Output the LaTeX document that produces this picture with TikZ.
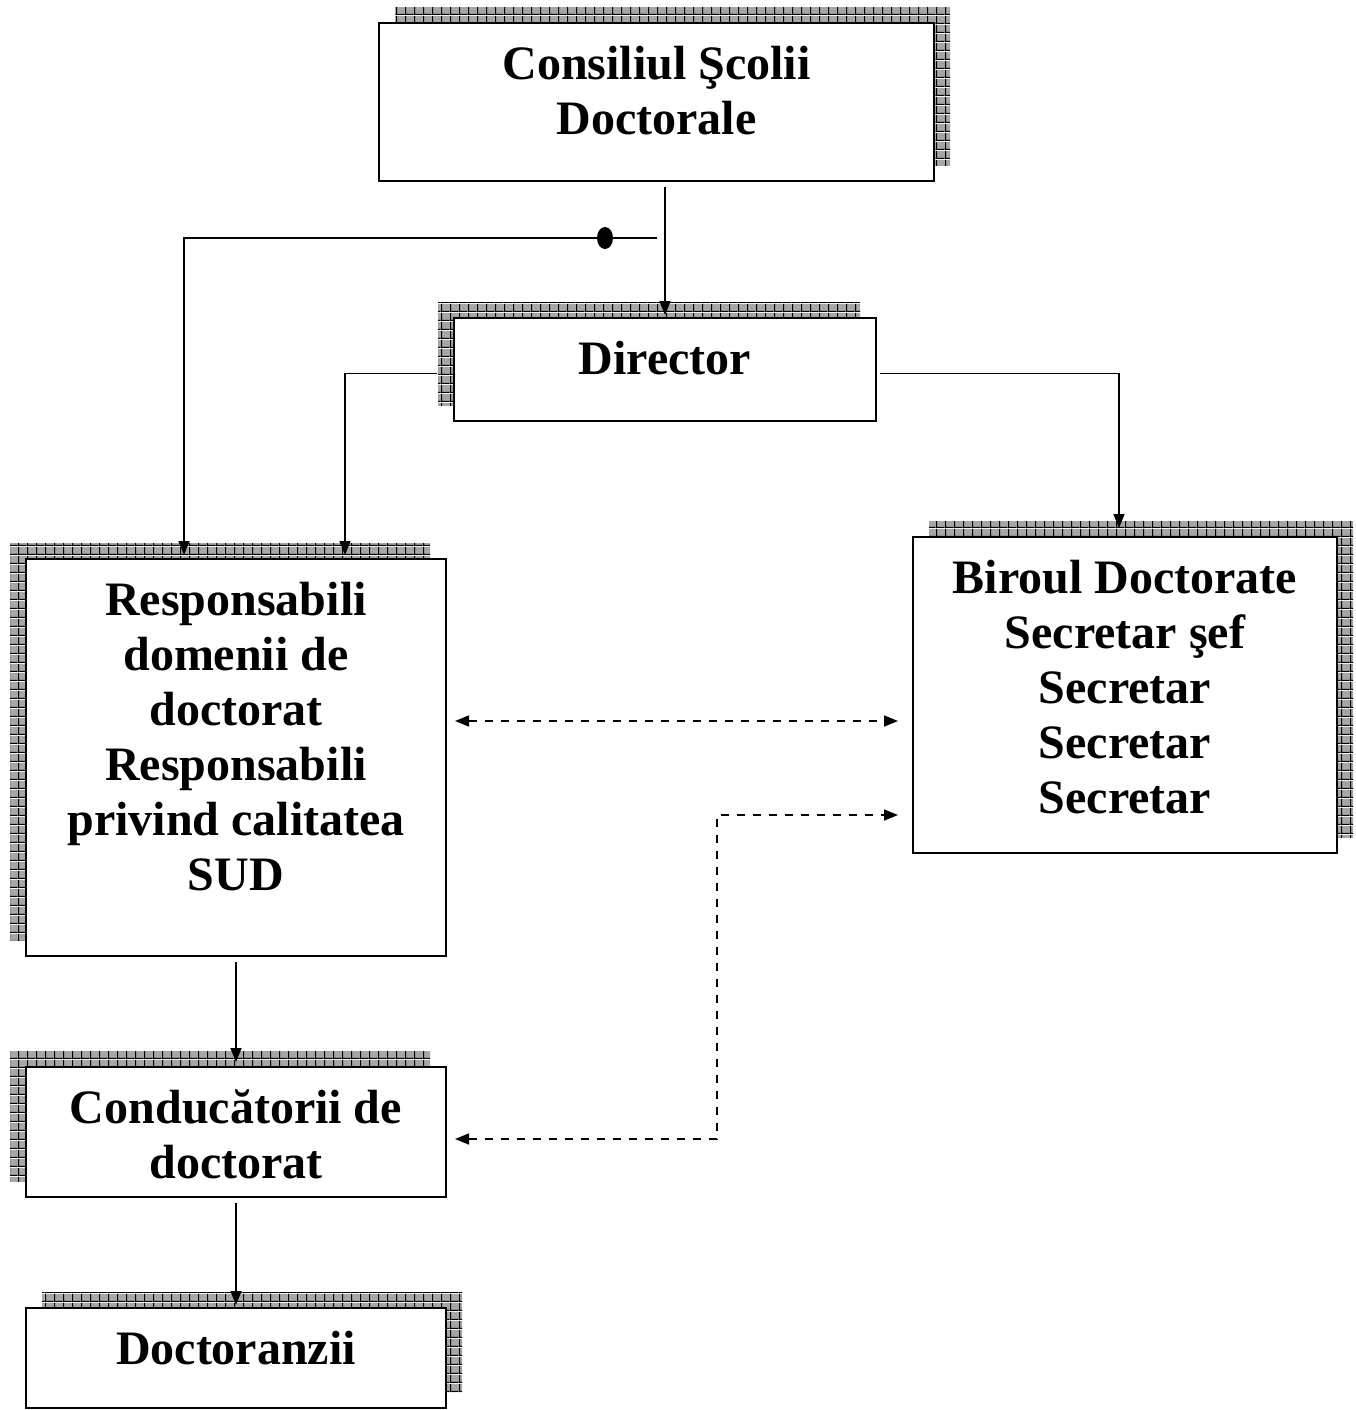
\documentclass[tikz,border=0pt]{standalone}
\usepackage{fontspec}
\setmainfont{Liberation Serif}
\usepackage{tikz}
\usetikzlibrary{arrows.meta, positioning, shadows, patterns, shapes.geometric}
\pgfdeclarepatterninherentlycolored{shadegrid}
{\pgfpointorigin}{\pgfqpoint{4.5pt}{4.5pt}}{\pgfqpoint{4.5pt}{4.5pt}}
{
  \pgfsetfillcolor{gray!70}
  \pgfpathrectangle{\pgfpointorigin}{\pgfqpoint{4.5pt}{4.5pt}}
  \pgfusepath{fill}
  \pgfsetlinewidth{0.6pt}
  \pgfsetstrokecolor{black}
  \pgfpathmoveto{\pgfqpoint{0pt}{0.3pt}}\pgfpathlineto{\pgfqpoint{4.5pt}{0.3pt}}
  \pgfpathmoveto{\pgfqpoint{0.3pt}{0pt}}\pgfpathlineto{\pgfqpoint{0.3pt}{4.5pt}}
  \pgfusepath{stroke}
}
\tikzset{
  box/.style={draw, line width=1pt, fill=white, align=flush center, inner sep=0pt, anchor=north west,
    text height=28pt, font=\bfseries\fontsize{24}{27.5}\selectfont},
  shadowUL/.style={general shadow={shadow xshift=-8pt, shadow yshift=8pt, pattern=shadegrid, draw=none}},
  shadowUR/.style={general shadow={shadow xshift=8pt, shadow yshift=8pt, pattern=shadegrid, draw=none}},
  link/.style={line width=0.75pt},
  dashlink/.style={line width=0.75pt, dash pattern=on 4.2pt off 3.8pt},
  dot/.style={ellipse, fill=black, inner sep=0pt, minimum width=8pt, minimum height=11pt}
}

\begin{document}
\begin{tikzpicture}[x=0.5pt, y=-0.5pt, >={Triangle[length=7pt,width=5.5pt]}]
\useasboundingbox (0,0) rectangle (1356,1410);
\node[box, shadowUR, text width=277.5pt, text depth=51pt] (cons) at (378,22) {Consiliul Şcolii\\Doctorale};
\node[box, shadowUL, text width=211pt, text depth=23.5pt] (dir) at (453,317) {Director};
\node[box, shadowUL, text width=210pt, text depth=170.5pt] (resp) at (25,558) {Responsabili\\domenii de\\doctorat\\Responsabili\\privind calitatea\\SUD};
\node[box, shadowUR, text width=212pt, text depth=130pt] (bir) at (912,536) {Biroul Doctorate\\Secretar şef\\Secretar\\Secretar\\Secretar};
\node[box, shadowUL, below=54.5pt of resp.south west, anchor=north west, text width=210pt, text depth=37pt] (cond) {Conducătorii de\\doctorat};
\node[box, shadowUR, below=54.5pt of cond.south west, anchor=north west, text width=210pt, text depth=22pt] (doct) {Doctoranzii};
\coordinate (split) at (657,238);
\draw[link, ->, shorten <=2.5pt, shorten >=1pt] (cons.south -| dir.north) -- (dir.north);
\draw[link, ->, shorten >=1.5pt] (split) -| ([xshift=-26pt]resp.north);
\node[dot] (junction) at (605,238) {};
\draw[link, ->, shorten >=1.5pt] ([xshift=-8pt,yshift=-2pt]dir.west) -| ([xshift=54.5pt]resp.north);
\draw[link, ->, shorten >=4pt] ([xshift=1.5pt,yshift=-2pt]dir.east) -| ([xshift=-3pt]bir.north);
\draw[dashlink, <->] ([xshift=4pt,yshift=18.25pt]resp.east) -- ([xshift=-7pt,yshift=-13pt]bir.west);
\draw[dashlink, <->] ([xshift=4pt,yshift=-3.5pt]cond.east) -| ([xshift=-97.5pt,yshift=-60pt]bir.west) -- ([xshift=-7pt,yshift=-60pt]bir.west);
\draw[link, ->, shorten <=2.5pt, shorten >=2pt] (resp.south) -- (cond.north);
\draw[link, ->, shorten <=2.5pt, shorten >=1pt] (cond.south) -- (doct.north);
\end{tikzpicture}
\end{document}
